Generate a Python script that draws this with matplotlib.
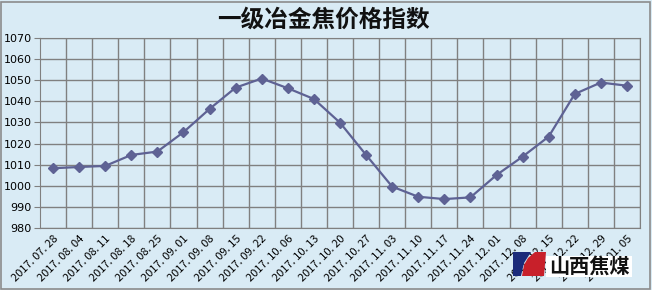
import matplotlib.pyplot as plt
import matplotlib.patches as mpatches
import numpy as np

plt.rcParams['font.family'] = ['Noto Sans CJK SC', 'DejaVu Sans']

dates = ["2017.07.28", "2017.08.04", "2017.08.11", "2017.08.18", "2017.08.25",
         "2017.09.01", "2017.09.08", "2017.09.15", "2017.09.22", "2017.10.06",
         "2017.10.13", "2017.10.20", "2017.10.27", "2017.11.03", "2017.11.10",
         "2017.11.17", "2017.11.24", "2017.12.01", "2017.12.08", "2017.12.15",
         "2017.12.22", "2017.12.29", "2018.01.05"]
index = [1008.3, 1008.9, 1009.4, 1014.6, 1016.2, 1025.4, 1036.4, 1046.5,
         1050.8, 1046.2, 1041.1, 1029.9, 1014.6, 999.6, 994.8, 993.7,
         994.5, 1005.1, 1013.8, 1023.3, 1043.5, 1048.9, 1047.4]
yticks = list(range(980, 1071, 10))

bg = "#D9EBF5"
W, H = 652, 290
fig = plt.figure(figsize=(W / 100, H / 100), dpi=100, facecolor=bg)
ax = fig.add_axes([40 / W, 1 - 228 / H, 600 / W, 190 / H])
ax.set_facecolor(bg)

x = np.arange(len(dates))
ax.plot(x, index, color="#5E6294", lw=1.6, marker="D", ms=5,
        markerfacecolor="#5E6294", markeredgecolor="#5E6294", zorder=3)

ax.set_xlim(-0.5, len(dates) - 0.5)
ax.set_ylim(980, 1070)
ax.set_yticks(yticks)
ax.set_yticklabels([str(v) for v in yticks], fontsize=8, family="DejaVu Sans")
ax.set_xticks(x + 0.5, minor=False)
ax.set_xticklabels([])
ax.set_xticks(x, minor=True)
ax.set_xticklabels([d.replace(".", ". ") for d in dates], minor=True,
                   rotation=45, ha="right", va="top", fontsize=8,
                   rotation_mode="anchor")
ax.tick_params(axis="x", which="both", length=0, pad=4)
ax.tick_params(axis="y", length=4, color="#808080", pad=2)
ax.grid(True, which="major", color="#808080", lw=1)
ax.set_axisbelow(True)
for s in ax.spines.values():
    s.set_color("#808080")

fig.text(323 / W, 1 - 20 / H, "一级冶金焦价格指数", ha="center", va="center",
         fontsize=17, fontweight="bold", color="#111111")

# outer border
fig.add_artist(mpatches.Rectangle((1 / W, 1 / H), (W - 3) / W, (H - 3) / H,
                                  transform=fig.transFigure, fill=False,
                                  ec="#8C8C8C", lw=1.2))

# logo
def px(xp, yp):
    return (xp / W, 1 - yp / H)

fig.add_artist(mpatches.Rectangle(px(546, 277), 86 / W, 21 / H,
                                  transform=fig.transFigure, fc="white", ec="none"))
fig.add_artist(mpatches.Polygon([px(513, 252), px(531, 252), px(524, 263), px(521, 276), px(513, 276)],
                                transform=fig.transFigure, fc="#1B2A7A", ec="none"))
fig.add_artist(mpatches.Polygon([px(535, 252), px(546, 252), px(544, 276), px(522, 276), px(524, 265), px(528, 258)],
                                transform=fig.transFigure, fc="#C8202A", ec="none"))
fig.text(589 / W, 1 - 266 / H, "山西焦煤", ha="center", va="center",
         fontsize=14.5, fontweight="bold", color="#111111")

fig.savefig("out.png", dpi=100, facecolor=bg)
